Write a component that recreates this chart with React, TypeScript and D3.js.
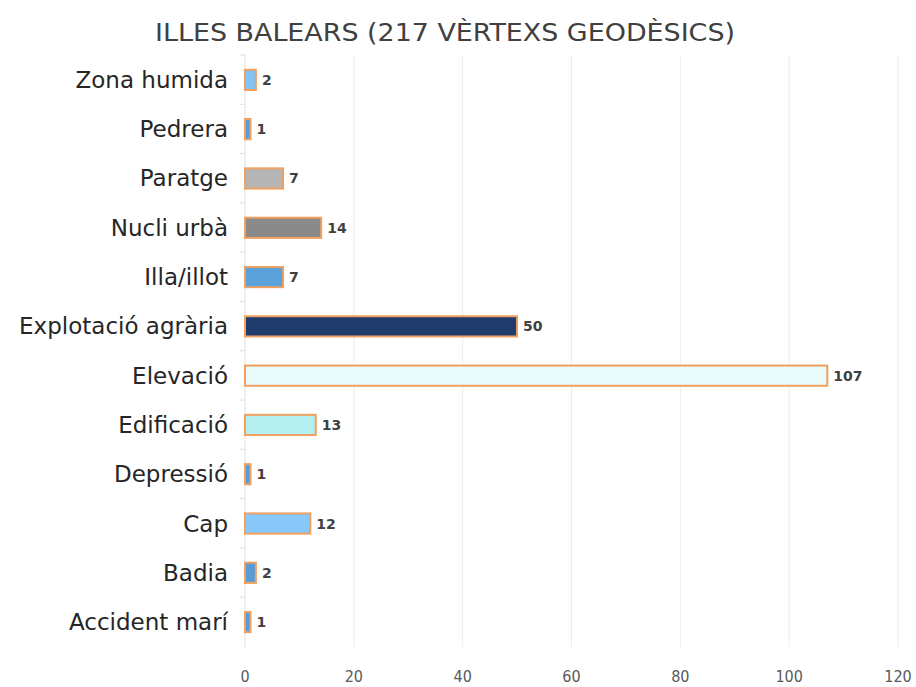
import React from "react";
import * as d3 from "d3";

const categories = [
  "Zona humida",
  "Pedrera",
  "Paratge",
  "Nucli urbà",
  "Illa/illot",
  "Explotació agrària",
  "Elevació",
  "Edificació",
  "Depressió",
  "Cap",
  "Badia",
  "Accident marí",
];
const values = [2, 1, 7, 14, 7, 50, 107, 13, 1, 12, 2, 1];
const colors = [
  "#86c3f5",
  "#5b9bd5",
  "#b5b5b5",
  "#8a8a8a",
  "#5ba1da",
  "#203c6c",
  "#e8fcfc",
  "#b5eff0",
  "#5b9bd5",
  "#88c8fa",
  "#5b9bd5",
  "#5b9bd5",
];
const xTicks = [0, 20, 40, 60, 80, 100, 120];
const title = "ILLES BALEARS (217 VÈRTEXS GEODÈSICS)";

const W = 916;
const H = 687;
const left = 245;
const right = 898;
const top = 55;
const bottom = 647;

export default function App() {
  const x = d3.scaleLinear().domain([0, 120]).range([left, right]);
  const y = d3
    .scaleBand<string>()
    .domain(categories)
    .range([top, bottom])
    .paddingInner(0.59)
    .paddingOuter(0.3);
  const wide = "'DejaVu Sans', Verdana, sans-serif";
  const cond = "'DejaVu Sans Condensed', 'DejaVu Sans', sans-serif";
  const step = y.step();
  return (
    <svg
      width={W}
      height={H}
      style={{ position: "absolute", left: 0, top: 0, background: "#fff" }}
      fontFamily={wide}
    >
      <text x={445} y={41} textAnchor="middle" fontSize={25} fill="#404040" fontFamily={cond} textLength={580} lengthAdjust="spacingAndGlyphs">
        {title}
      </text>
      {xTicks.map((t) => (
        <g key={t}>
          {t > 0 && (
            <line x1={x(t)} x2={x(t)} y1={top} y2={bottom} stroke="#ececec" strokeWidth={1} />
          )}
          <text x={x(t)} y={682} textAnchor="middle" fontSize={16} fill="#595959" fontFamily={cond}>
            {t}
          </text>
        </g>
      ))}
      <line x1={left} x2={left} y1={top} y2={bottom} stroke="#e0e0e0" />
      {categories.map((c, i) => (
        <line
          key={"tk" + i}
          x1={left - 5}
          x2={left}
          y1={top + i * step}
          y2={top + i * step}
          stroke="#e0e0e0"
        />
      ))}
      {categories.map((c, i) => {
        const yy = y(c)!;
        const bw = y.bandwidth();
        return (
          <g key={c}>
            <rect
              x={x(0)}
              y={yy}
              width={x(values[i]) - x(0)}
              height={bw}
              fill={colors[i]}
              stroke="#f0a060"
              strokeWidth={2}
            />
            <text
              x={x(values[i]) + 6}
              y={yy + bw / 2}
              dominantBaseline="central"
              fontSize={14}
              fontWeight="bold"
              fill="#404040"
            >
              {values[i]}
            </text>
            <text
              x={228}
              y={yy + bw / 2}
              dominantBaseline="central"
              textAnchor="end"
              fontSize={23}
              fill="#262626"
            >
              {c}
            </text>
          </g>
        );
      })}
    </svg>
  );
}
